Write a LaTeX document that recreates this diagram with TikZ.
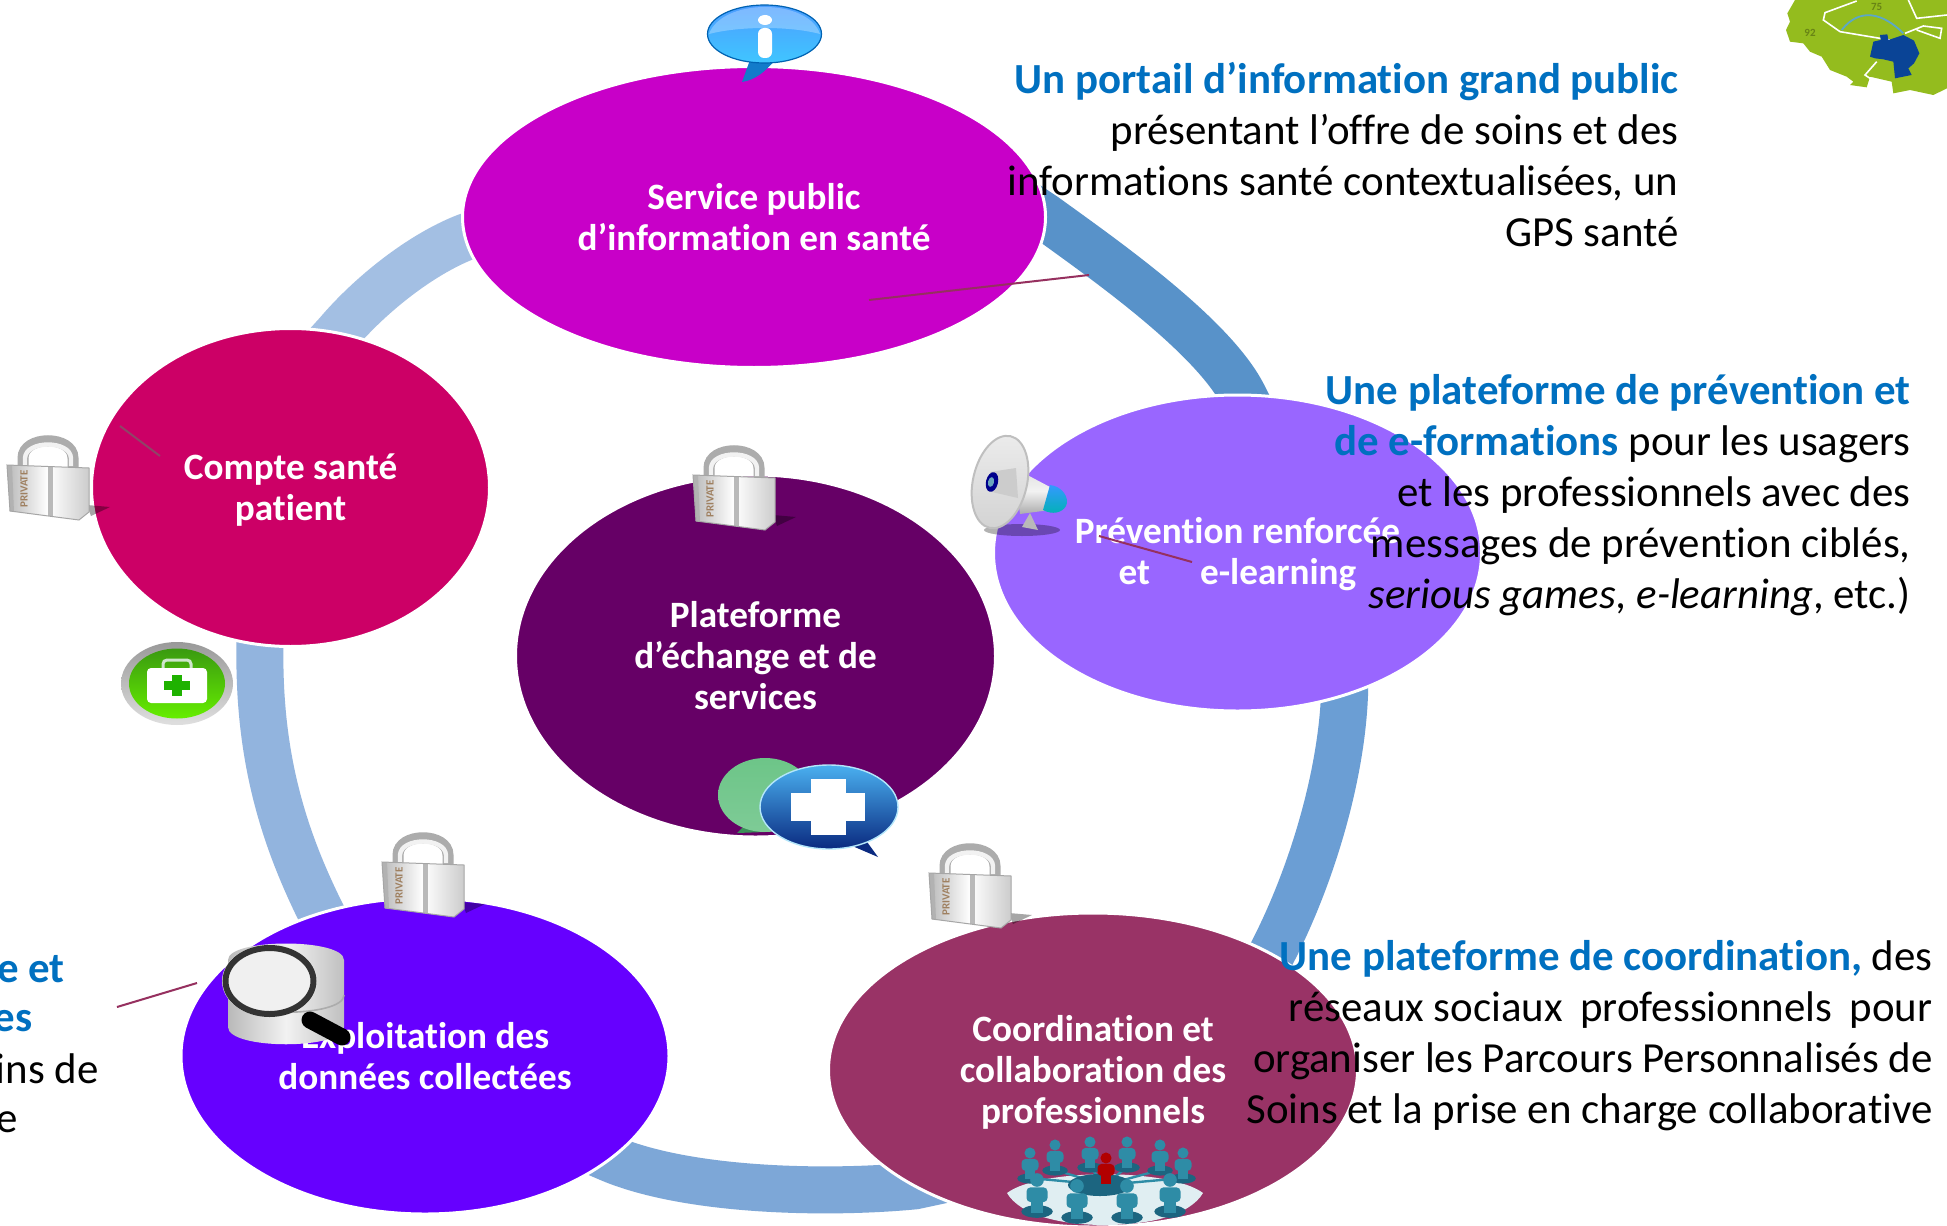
\documentclass[tikz,border=0pt]{standalone}
\usepackage{fontspec}
\setmainfont{Carlito}[Ligatures=NoCommon]
\usetikzlibrary{shapes.geometric}
\pgfdeclarelayer{bg}
\pgfsetlayers{bg,main}
\definecolor{blueH}{HTML}{0070C0}
\definecolor{linkC}{HTML}{96305F}
\definecolor{tealA}{HTML}{2E8CA6}
\definecolor{tealD}{HTML}{1C6580}
\definecolor{cService}{HTML}{C800C8}
\definecolor{cCompte}{HTML}{CC0066}
\definecolor{cPlat}{HTML}{660066}
\definecolor{cPrev}{HTML}{9966FF}
\definecolor{cExpl}{HTML}{6600FF}
\definecolor{cCoord}{HTML}{993366}
\definecolor{ringA}{HTML}{5892C9}
\definecolor{ringB}{HTML}{6B9ED4}
\definecolor{ringC}{HTML}{7DA7D7}
\definecolor{ringD}{HTML}{92B4DE}
\definecolor{ringE}{HTML}{A3BFE3}
\definecolor{mapG}{HTML}{94BC1E}
\definecolor{mapB}{HTML}{0A4496}
\definecolor{chatT}{HTML}{4AB0F0}
\definecolor{chatM}{HTML}{1565B5}
\definecolor{chatB}{HTML}{0A2A80}
\definecolor{greenT}{HTML}{6DC588}
\definecolor{greenM}{HTML}{3A9058}
\definecolor{greenB}{HTML}{7ECB96}
\definecolor{btnT}{HTML}{3A9A10}
\definecolor{btnM}{HTML}{0F8000}
\definecolor{btnB}{HTML}{66EE00}
\tikzset{
  hub/.style={ellipse,draw=white,line width=1.5pt,inner sep=0pt,outer sep=0pt,align=center,text=white,
    font=\fontsize{18.6}{20.5}\selectfont\bfseries},
  ringseg/.style={line width=23.5pt,line cap=butt},
  para/.style={align=right,inner sep=0pt,font=\fontsize{21.45}{25.5}\selectfont,text=black},
  frag/.style={anchor=east,inner sep=0pt,font=\fontsize{21.45}{25.5}\selectfont,text=black},
  thinlink/.style={draw=linkC,line width=1pt},
  pics/lockicon/.style={code={
    \fill[black,opacity=.35] (80,73)--(103,75)--(84,84)--cycle;
    \draw[line width=5.5pt,color=gray!65] (16,36) -- (16,26) .. controls (16,3) and (66,3) .. (66,26) -- (66,36);
    \draw[line width=2.2pt,color=gray!10] (18,34) -- (18,26) .. controls (19,8) and (63,8) .. (64,26) -- (64,34);
    \shade[left color=gray!55,right color=gray!40,middle color=white] (0,33) -- (82,36) -- (82,80) -- (72,88) -- (3,79) -- cycle;
    \fill[gray!60] (0,33) -- (5,33) -- (7,80) -- (3,79) -- cycle;
    \fill[gray!55] (41,35) rectangle (46,84);
    \draw[gray!70,line width=.5pt] (0,33) -- (82,36) -- (82,80) -- (72,88) -- (3,79) -- cycle;
    \node[rotate=90,inner sep=0pt,text=brown!50!gray,font=\fontsize{5.5}{5.5}\selectfont\bfseries] (-t) at (17,57) {PRIVATE};
  }},
  pics/person/.style={code={
    \fill[tealD] (0,30) ellipse [x radius=15,y radius=6];
    \fill[#1] (0,0) circle [radius=6.5];
    \fill[#1,rounded corners=2pt] (-10,7) rectangle (10,21);
    \fill[#1] (-6,20) rectangle (6,31);
  }}
}
\begin{document}
\begin{tikzpicture}[x=0.5pt,y=-0.5pt]
\useasboundingbox (0,0) rectangle (1947,1225);
\clip (0,0) rectangle (1947,1225);

% ---- hubs
\node[hub,fill=cService,minimum width=291.5pt,minimum height=150.5pt] (service) at (754,217) {Service public\\d’information en santé};
\node[hub,fill=cCompte,minimum width=199pt,minimum height=159pt] (compte) at (290.5,487.5) {\rule{0pt}{15.5pt}Compte santé\\patient};
\node[hub,fill=cPlat,minimum width=240pt,minimum height=181pt] (plat) at (755.5,656) {Plateforme\\d’échange et de\\services};
\node[hub,fill=cPrev,minimum width=244pt,minimum height=158pt] (prev) at (1237.5,553) {\rule{0pt}{14.5pt}Prévention renforcée\\et\hspace{25pt}e-learning};
\node[hub,fill=cExpl,minimum width=244pt,minimum height=158pt] (expl) at (425,1056) {Exploitation des\\données collectées};
\node[hub,fill=cCoord,minimum width=264.5pt,minimum height=157pt] (coord) at (1093,1070) {\rule{0pt}{15.5pt}Coordination et\\collaboration des\\professionnels};

% ---- ring, behind the hubs
\begin{pgfonlayer}{bg}
\fill[white] (0,0) rectangle (1947,1225);
\draw[ringseg,draw=ringA] ([xshift=-12pt,yshift=8pt]service.east) -- (service.east) .. controls (1105,260) and (1212,335) .. (prev.88) -- ([xshift=7pt,yshift=-14pt]prev.88);
\draw[ringseg,draw=ringB] ([yshift=15pt]prev.-53) -- (prev.-53) .. controls (1341,780) and (1310,880) .. (coord.33) -- ([xshift=-7pt,yshift=-14pt]coord.33);
\draw[ringseg,draw=ringC] ([xshift=14pt,yshift=3pt]coord.-147) -- (coord.-147) .. controls (830,1194) and (690,1192) .. (expl.-29) -- ([xshift=-14pt,yshift=6pt]expl.-29);
\draw[ringseg,draw=ringD] ([xshift=7pt,yshift=-14pt]expl.126) -- (expl.126) .. controls (285,840) and (258,760) .. (compte.-101) -- ([yshift=15pt]compte.-101);
\draw[ringseg,draw=ringE] ([xshift=-10pt,yshift=-11pt]compte.73) -- (compte.73) .. controls (370,295) and (420,255) .. (service.184) -- ([xshift=14pt,yshift=5pt]service.184);
\end{pgfonlayer}

% ---- thin lines
\coordinate (la) at (869,300); \coordinate (lb) at (1089,275);
\coordinate (lc) at (120,426); \coordinate (ld) at (160,456);
\coordinate (le) at (1099,536); \coordinate (lf) at (1192,562);
\coordinate (lg) at (117,1007); \coordinate (lh) at (197,983);
\draw[thinlink] (la) -- (lb);
\draw[thinlink,draw=linkC!75!gray] (lc) -- (ld);
\draw[thinlink] (le) -- (lf);
\draw[thinlink] (lg) -- (lh);

% ---- padlocks
\pic (lockA) at (7,432) {lockicon};
\pic (lockB) at (693,442) {lockicon};
\pic (lockC) at (382,829) {lockicon};
\pic (lockD) at (929,840) {lockicon};

% ---- info bubble
\fill[cyan!60!blue] (750,60) -- (742,82) .. controls (755,80) and (765,72) .. (775,60) -- cycle;
\shade[top color=cyan!45!blue!70,bottom color=cyan!70!blue!75,draw=blue!45!cyan!70!black,line width=.6pt] (764.5,34) ellipse [x radius=57,y radius=29];
\fill[white,opacity=.28] (709,34) .. controls (722,-2) and (808,-2) .. (820,34) .. controls (790,26) and (740,26) .. (709,34) -- cycle;
\fill[white] (765,20) ellipse [x radius=7,y radius=5];
\fill[white,rounded corners=3pt] (758,28) rectangle (772,58);

% ---- medical button
\shade[top color=gray!80,bottom color=gray!25] (177,683.5) ellipse [x radius=56,y radius=41.5];
\shade[top color=btnT,middle color=btnM,bottom color=btnB] (177,683.5) ellipse [x radius=48,y radius=35];
\draw[white!80!btnM,line width=1.5pt,rounded corners=2pt] (163,668) -- (163,660) -- (191,660) -- (191,668);
\fill[white,rounded corners=2pt] (147,668) rectangle (207,703);
\fill[green!60!black!70!btnB] (172,675) rectangle (182,696);
\fill[green!60!black!70!btnB] (164,681) rectangle (190,690);

% ---- megaphone
\fill[black,opacity=.3] (1022,530) ellipse [x radius=38,y radius=6];
\fill[gray!55] (1030,513) -- (1038,530) -- (1022,527) -- cycle;
\shade[top color=gray!25,bottom color=gray!65,middle color=gray!10] (1014,468) -- (1050,487) -- (1050,510) -- (1020,514) -- cycle;
\shade[top color=cyan!50!blue!80,bottom color=teal!60!cyan] (1050,485) .. controls (1062,486) and (1070,498) .. (1066,506) .. controls (1062,513) and (1052,515) .. (1043,510) -- cycle;
\shade[top color=gray!15,bottom color=gray!35,draw=gray!50,line width=1pt,rotate around={-13:(1000,482)}] (1000,482) ellipse [x radius=27,y radius=47];
\fill[gray!40] (990,472) -- (1016,468) -- (1018,498) -- (992,492) -- cycle;
\fill[blue!55!black,rotate around={-13:(992,482)}] (992,482) ellipse [x radius=6,y radius=10];
\fill[cyan!45!gray,rotate around={-13:(991,482)}] (991,482) ellipse [x radius=3,y radius=5];

% ---- database and magnifier
\shade[left color=gray!55,right color=gray!50,middle color=gray!10] (228,960) -- (228,1027) .. controls (228,1050) and (344,1050) .. (344,1027) -- (344,960) .. controls (344,938) and (228,938) .. cycle;
\draw[gray!65,line width=.8pt] (228,995) .. controls (228,1018) and (344,1018) .. (344,995);
\draw[black,line width=8.5pt,line cap=round] (310,1020) -- (342,1037);
\fill[gray!12] (269.5,981) ellipse [x radius=47.5,y radius=36];
\draw[black!80,line width=3pt] (269.5,981) ellipse [x radius=44,y radius=33];

% ---- chat bubbles
\fill[greenM] (745,825) -- (737,833) -- (765,832) -- cycle;
\shade[top color=greenT,middle color=greenM,bottom color=greenB] (765,795) ellipse [x radius=47,y radius=37];
\fill[chatB] (850,845) -- (878,857) -- (862,835) -- cycle;
\shade[top color=chatT,middle color=chatM,bottom color=chatB,draw=cyan!30,line width=.7pt] (829,807) ellipse [x radius=69,y radius=42];
\fill[white] (791,793) rectangle (865,821);
\fill[white] (811,779) rectangle (846,835);

% ---- people network
\fill[white!85!tealA] (1007,1193) .. controls (1040,1168) and (1170,1168) .. (1203,1193) .. controls (1190,1215) and (1150,1225) .. (1105,1225) .. controls (1060,1225) and (1020,1215) .. (1007,1193) -- cycle;
\foreach \i/\px/\py in {a/1030/1153,b/1055/1145,c/1090/1142,d/1127/1142,e/1160/1145,f/1183/1153}{
  \draw[tealA,line width=1.2pt] (1105,1185) -- (\px,\py+25);
}
\foreach \i/\px/\py in {a/1030/1153,b/1055/1145,c/1090/1142,d/1127/1142,e/1160/1145,f/1183/1153}{
  \pic[scale=.85] (p\i) at (\px,\py) {person=tealA};
}
\fill[tealD] (1100,1185) ellipse [x radius=32,y radius=11];
\pic[scale=.85] (pred) at (1106,1158) {person=red!70!black};
\foreach \i/\px/\py in {g/1037/1180,h/1077/1186,k/1127/1186,m/1170/1180}{
  \pic[scale=1.05] (p\i) at (\px,\py) {person=tealA};
}

% ---- map
\begin{scope}[shift={(1760,0)},x=0.16667pt,y=-0.16667pt]
\fill[mapG] (105,0) -- (82,40) -- (90,65) -- (78,90) -- (90,125) -- (130,130) -- (150,155) -- (185,170) -- (210,210) -- (260,230) -- (280,245) -- (270,255) -- (320,262) -- (330,230) -- (395,245) -- (400,280) -- (450,270) -- (520,285) -- (561,265) -- (561,0) -- cycle;
\draw[white,line width=.8pt] (240,95) -- (190,60) -- (195,38) -- (290,3);
\draw[white,line width=.8pt] (240,95) -- (300,105) -- (390,120);
\draw[white,line width=.8pt] (445,0) -- (470,55) -- (561,45);
\draw[white,line width=.8pt] (435,100) -- (490,78) -- (545,85) -- (540,115) -- (470,90);
\draw[white,line width=.8pt] (350,185) -- (315,225) -- (330,235);
\draw[cyan!55!gray,line width=.9pt] (245,90) .. controls (300,20) and (370,40) .. (430,100);
\fill[mapB] (360,105) -- (382,103) -- (385,120) -- (430,105) -- (462,122) -- (478,160) -- (462,190) -- (445,205) -- (455,225) -- (405,235) -- (400,185) -- (370,178) -- (345,175) -- (330,170) -- (340,125) -- (362,120) -- cycle;
\node[inner sep=0pt,text=mapG!70!black,font=\fontsize{5.5}{6}\selectfont\bfseries] (t75) at (350,22) {75};
\node[inner sep=0pt,text=mapG!70!black,font=\fontsize{5.5}{6}\selectfont\bfseries] (t92) at (150,98) {92};
\end{scope}

% ---- texts
\node[para,anchor=east] (portal) at (1679,155) {\textcolor{blueH}{\textbf{Un portail d’information grand public}}\\présentant l’offre de soins et des\\informations santé contextualisées, un\\GPS santé};
\node[para,anchor=east] (prevt) at (1911,495) {\textcolor{blueH}{\textbf{Une plateforme de prévention et}}\\\textcolor{blueH}{\textbf{de e-formations}} pour les usagers\\et les professionnels avec des\\messages de prévention ciblés,\\\textit{serious games, e-learning}, etc.)};
\node[para,anchor=east] (coordt) at (1933,1036) {\textcolor{blueH}{\textbf{Une plateforme de coordination,}} des\\\makebox[322pt][s]{réseaux sociaux\hfill professionnels\hfill pour}\\organiser les Parcours Personnalisés de\\Soins et la prise en charge collaborative};
\node[frag,text=blueH,font=\fontsize{21.45}{25.5}\selectfont\bfseries] (fa) at (65,969) {e et};
\node[frag,text=blueH,font=\fontsize{21.45}{25.5}\selectfont\bfseries] (fb) at (33,1021) {es};
\node[frag] (fc) at (99,1069) {ins de};
\node[frag] (fd) at (18,1122) {e};
\end{tikzpicture}
\end{document}
